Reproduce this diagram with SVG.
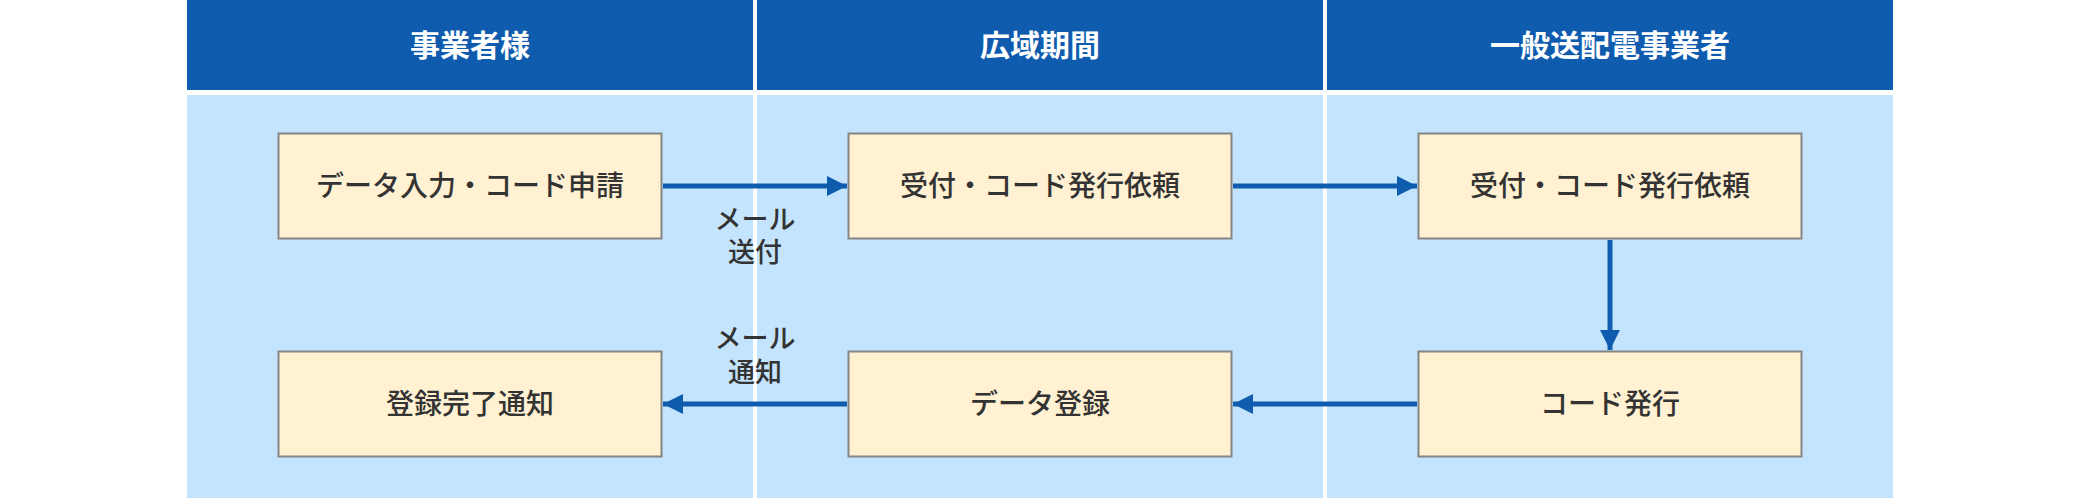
<svg xmlns="http://www.w3.org/2000/svg" width="2080" height="499" viewBox="0 0 2080 499">
<defs>
<style>
.hdr{fill:#0F5CAF}
.lane{fill:#C4E3FC}
.hdrtxt{font-family:"Noto Sans CJK JP","Noto Sans",sans-serif;font-size:30px;font-weight:700;fill:#FFFFFF;text-anchor:middle}
.box{fill:#FFF1D1;stroke:#858585;stroke-width:2}
.txt{font-family:"Noto Sans CJK JP","Noto Sans",sans-serif;font-size:28px;font-weight:500;fill:#333333;text-anchor:middle}
.lbl{font-family:"Noto Sans CJK JP","Noto Sans",sans-serif;font-size:27px;font-weight:500;fill:#333333;text-anchor:middle}
.conn{stroke:#0F5CAF;stroke-width:5;fill:none}
</style>
<marker id="ah" markerWidth="20" markerHeight="20" viewBox="0 0 20 20" refX="20" refY="10" orient="auto" markerUnits="userSpaceOnUse">
<path d="M0,0 L20,10 L0,20 Z" fill="#0F5CAF"/>
</marker>
</defs>
<rect width="2080" height="499" fill="#FFFFFF"/>
<g id="lanes">
<rect class="hdr" x="187" y="0" width="566" height="90"/>
<rect class="hdr" x="757" y="0" width="566" height="90"/>
<rect class="hdr" x="1327" y="0" width="566" height="90"/>
<rect class="lane" x="187" y="95" width="566" height="403"/>
<rect class="lane" x="757" y="95" width="566" height="403"/>
<rect class="lane" x="1327" y="95" width="566" height="403"/>
<text class="hdrtxt" x="470" y="56">事業者様</text>
<text class="hdrtxt" x="1040" y="56">広域期間</text>
<text class="hdrtxt" x="1610" y="56">一般送配電事業者</text>
</g>
<g id="connectors">
<line class="conn" x1="663" y1="186" x2="847" y2="186" marker-end="url(#ah)"/>
<line class="conn" x1="1233" y1="186" x2="1417" y2="186" marker-end="url(#ah)"/>
<line class="conn" x1="1610" y1="240" x2="1610" y2="350" marker-end="url(#ah)"/>
<line class="conn" x1="1417" y1="404" x2="1233" y2="404" marker-end="url(#ah)"/>
<line class="conn" x1="847" y1="404" x2="663" y2="404" marker-end="url(#ah)"/>
<text class="lbl" x="755" y="229">メール<tspan x="755" dy="33">送付</tspan></text>
<text class="lbl" x="755" y="348">メール<tspan x="755" dy="34">通知</tspan></text>
</g>
<g id="n1"><rect class="box" x="278.5" y="133.5" width="383" height="105"/><text class="txt" x="470" y="196">データ入力・コード申請</text></g>
<g id="n2"><rect class="box" x="848.5" y="133.5" width="383" height="105"/><text class="txt" x="1040" y="196">受付・コード発行依頼</text></g>
<g id="n3"><rect class="box" x="1418.5" y="133.5" width="383" height="105"/><text class="txt" x="1610" y="196">受付・コード発行依頼</text></g>
<g id="n4"><rect class="box" x="1418.5" y="351.5" width="383" height="105"/><text class="txt" x="1610" y="414">コード発行</text></g>
<g id="n5"><rect class="box" x="848.5" y="351.5" width="383" height="105"/><text class="txt" x="1040" y="414">データ登録</text></g>
<g id="n6"><rect class="box" x="278.5" y="351.5" width="383" height="105"/><text class="txt" x="470" y="414">登録完了通知</text></g>
</svg>
